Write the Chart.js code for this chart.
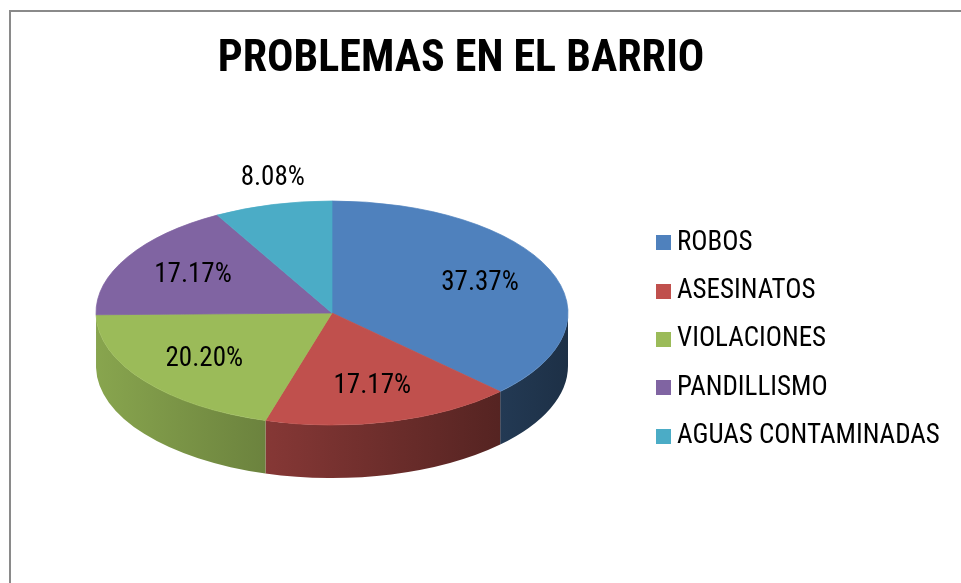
<!DOCTYPE html>
<html><head><meta charset="utf-8">
<script src="https://cdn.jsdelivr.net/npm/chart.js@4.4.1/dist/chart.umd.min.js"></script>
<style>
html,body{margin:0;padding:0;background:#fff;overflow:hidden;width:961px;height:583px}
#frame{position:absolute;left:9px;top:10px;width:2000px;height:2000px;border-left:2px solid #8a8a8a;border-top:2px solid #8a8a8a;box-sizing:border-box}
#wrap{position:absolute;left:0;top:0;width:961px;height:583px}
</style></head><body>
<div id="frame"></div>
<div id="wrap"><canvas id="c" width="961" height="583"></canvas></div>
<script>
const chartTitle = 'PROBLEMAS EN EL BARRIO';
const categories = ['ROBOS', 'ASESINATOS', 'VIOLACIONES', 'PANDILLISMO', 'AGUAS CONTAMINADAS'];
const counts = [37, 17, 20, 17, 8];
const sliceColors = ['#4F81BD', '#C0504D', '#9BBB59', '#8064A2', '#4BACC6'];

const FONT = '"Roboto Condensed","Liberation Sans Narrow","DejaVu Sans Condensed",sans-serif';

function shade(hex, f) {
  const n = parseInt(hex.slice(1), 16);
  const r = Math.round(((n >> 16) & 255) * f), g = Math.round(((n >> 8) & 255) * f), b = Math.round((n & 255) * f);
  return 'rgb(' + r + ',' + g + ',' + b + ')';
}

// small square swatch used as the legend marker (keeps Excel's narrow gap to the text)
function swatch(color, size) {
  const c = document.createElement('canvas');
  c.width = size; c.height = size;
  const x = c.getContext('2d');
  x.fillStyle = color; x.fillRect(0, 0, size, size);
  return c;
}

// 3D pie: extrudes the library's arc elements and tilts the top face
const pie3d = {
  id: 'pie3d',
  beforeDatasetsDraw(chart, args, opts) {
    const meta = chart.getDatasetMeta(0);
    const arcs = meta.data;
    const ctx = chart.ctx;
    ctx.save();
    if (!arcs.length) return;
    const cx = arcs[0].x, cy = arcs[0].y, rx = arcs[0].outerRadius;
    const ry = rx * opts.tilt, d = opts.depth;
    const ecy = cy - d / 2;
    arcs.forEach((arc) => {
      const s = arc.startAngle, e = arc.endAngle;
      const col = arc.options.backgroundColor;
      for (let n = -1; n <= 1; n++) {
        const a = Math.max(s, 2 * Math.PI * n), b = Math.min(e, 2 * Math.PI * n + Math.PI);
        if (b <= a) continue;
        ctx.beginPath();
        ctx.ellipse(cx, ecy, rx, ry, 0, a, b, false);
        ctx.lineTo(cx + rx * Math.cos(b), ecy + d + ry * Math.sin(b));
        ctx.ellipse(cx, ecy + d, rx, ry, 0, b, a, true);
        ctx.closePath();
        const g = ctx.createLinearGradient(cx - rx, 0, cx + rx, 0);
        g.addColorStop(0, shade(col, 0.88));
        g.addColorStop(1, shade(col, 0.37));
        ctx.fillStyle = g;
        ctx.fill();
      }
    });
    ctx.translate(cx, ecy);
    ctx.scale(1, opts.tilt);
    ctx.translate(-cx, -cy);
  },
  afterDatasetsDraw(chart, args, opts) {
    const ctx = chart.ctx;
    ctx.restore();
    const meta = chart.getDatasetMeta(0);
    const arcs = meta.data;
    if (!arcs.length) return;
    const cx = arcs[0].x, cy = arcs[0].y, rx = arcs[0].outerRadius;
    const ry = rx * opts.tilt, d = opts.depth;
    const ecy = cy - d / 2;
    const data = chart.data.datasets[0].data;
    const total = data.reduce((p, q) => p + q, 0);
    ctx.save();
    ctx.font = opts.fontSize + 'px ' + FONT;
    ctx.fillStyle = '#000';
    ctx.textAlign = 'center';
    ctx.textBaseline = 'middle';
    arcs.forEach((arc, i) => {
      const frac = data[i] / total;
      const m = (arc.startAngle + arc.endAngle) / 2;
      let x, y;
      if (frac < 0.1) {
        x = cx + rx * Math.cos(m);
        y = ecy + ry * Math.sin(m);
        y += Math.sin(m) < 0 ? -opts.outsideGap : opts.outsideGap + d;
      } else {
        x = cx + rx * opts.insideFactor * Math.cos(m);
        y = ecy + ry * opts.insideFactor * Math.sin(m);
      }
      ctx.fillText((frac * 100).toFixed(2) + '%', x, y);
    });
    ctx.restore();
  }
};

// let the long legend label run past the narrow legend box instead of being clipped
const legendOverflow = {
  id: 'legendOverflow',
  afterLayout(chart) {
    const lg = chart.legend;
    if (lg) { lg.right = chart.width; lg.width = lg.right - lg.left; }
  }
};

new Chart(document.getElementById('c'), {
  type: 'pie',
  data: {
    labels: categories,
    datasets: [{
      data: counts,
      backgroundColor: sliceColors,
      borderColor: sliceColors,
      borderWidth: 1,
      radius: 236,
      clip: false
    }]
  },
  options: {
    responsive: false,
    animation: false,
    events: [],
    layout: { padding: { left: 22.8, right: 61.8, top: 0, bottom: 4 } },
    plugins: {
      tooltip: { enabled: false },
      title: {
        display: true,
        text: chartTitle,
        color: '#000',
        font: { family: FONT, size: 44, weight: 'bold' },
        padding: { top: 33.6, bottom: 13.6 }
      },
      legend: {
        position: 'right',
        fullSize: false,
        maxWidth: 258,
        labels: {
          color: '#000',
          font: { family: FONT, size: 27 },
          usePointStyle: true,
          boxWidth: 1,
          boxHeight: 15,
          padding: 21.3,
          generateLabels(chart) {
            const items = Chart.overrides.pie.plugins.legend.labels.generateLabels(chart);
            items.forEach((it) => { it.pointStyle = swatch(it.fillStyle, 15); });
            return items;
          }
        }
      },
      pie3d: { tilt: 0.4746, depth: 53, insideFactor: 0.68, outsideGap: 26.5, fontSize: 27 }
    }
  },
  plugins: [pie3d, legendOverflow]
});
</script>
</body></html>
